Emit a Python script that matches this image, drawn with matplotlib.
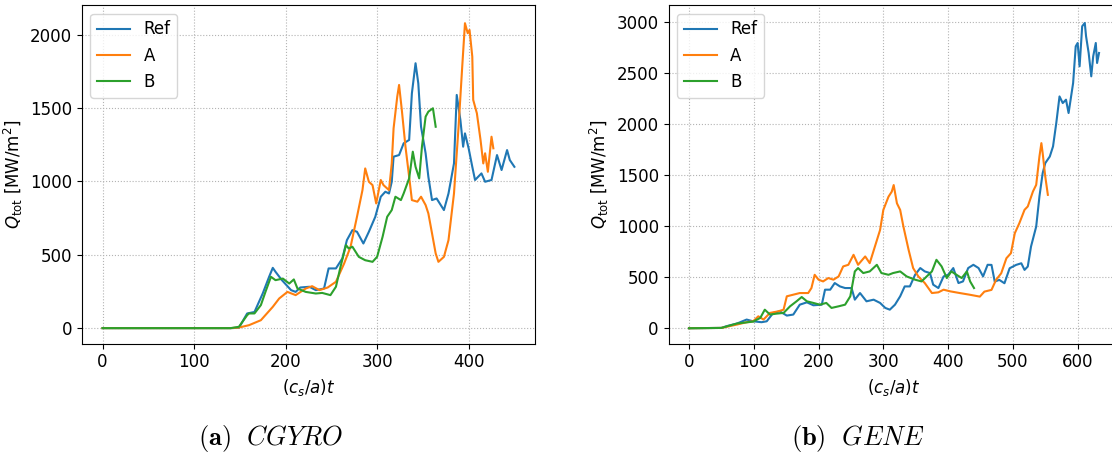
import matplotlib
matplotlib.use('Agg')
import matplotlib.pyplot as plt

###### dados - painel (a) CGYRO
t_ref_a = [0, 140, 149, 158, 166, 175, 182, 186, 189, 196, 206, 211, 216, 226, 233, 242, 247, 255, 262, 267,
           273, 278, 285, 291, 298, 304, 309, 313, 316, 318, 324, 329, 335, 338, 342, 345, 348, 353, 356, 360,
           365, 373, 378, 384, 387, 391, 394, 396, 400, 404, 407, 414, 418, 425, 431, 436, 442, 445, 450]
q_ref_a = [0, 0, 2, 100, 110, 236, 350, 411, 384, 327, 259, 247, 277, 282, 259, 270, 407, 407, 475, 600,
           668, 657, 577, 657, 759, 896, 930, 918, 998, 1169, 1180, 1260, 1283, 1601, 1806, 1669, 1373, 1192, 1032, 873,
           884, 805, 918, 1123, 1590, 1419, 1237, 1328, 1226, 1100, 1010, 1055, 998, 1010, 1180, 1078, 1214, 1146, 1100]

t_a_a = [0, 140, 149, 160, 173, 186, 193, 202, 211, 222, 229, 237, 246, 255, 264, 271, 278, 284, 287, 291,
         295, 299, 304, 307, 313, 316, 318, 322, 324, 327, 331, 335, 338, 344, 348, 353, 356, 360, 364, 367,
         373, 378, 384, 389, 393, 396, 399, 401, 404, 405, 409, 413, 416, 418, 421, 425, 427]
q_a_a = [0, 0, 4, 20, 54, 145, 202, 247, 225, 270, 286, 259, 277, 316, 441, 555, 759, 941, 1089, 998,
         975, 850, 1010, 975, 941, 1123, 1362, 1578, 1658, 1487, 1237, 1032, 873, 862, 896, 839, 782, 646, 509, 452,
         486, 600, 918, 1373, 1783, 2079, 2011, 2033, 1851, 1556, 1465, 1283, 1123, 1192, 1066, 1305, 1226]

t_b_a = [0, 140, 149, 158, 160, 166, 173, 178, 184, 189, 197, 204, 209, 213, 222, 233, 240, 249, 255, 260,
         266, 269, 273, 280, 287, 295, 300, 306, 311, 316, 320, 326, 329, 335, 339, 342, 346, 349, 353, 356,
         361, 364]
q_b_a = [0, 0, 9, 88, 100, 100, 157, 247, 350, 327, 338, 304, 332, 270, 247, 236, 240, 225, 282, 418,
         566, 543, 555, 486, 463, 452, 486, 623, 759, 805, 896, 873, 918, 1021, 1203, 1100, 1021, 1237, 1442, 1476,
         1499, 1373]

###### dados - painel (b) GENE
t_ref_b = [0, 50, 58, 74, 89, 99, 112, 120, 130, 140, 151, 161, 171, 182, 192, 205, 210, 218, 225, 233,
           241, 251, 256, 264, 274, 285, 295, 303, 310, 318, 326, 333, 341, 349, 357, 364, 372, 377, 385, 393,
           400, 408, 416, 423, 431, 439, 447, 454, 461, 467, 472, 479, 487, 495, 505, 513, 518, 523, 528, 536,
           541, 546, 550, 557, 562, 567, 572, 577, 582, 586, 593, 597, 600, 603, 607, 611, 613, 617, 621, 624,
           628, 630, 633]
q_ref_b = [0, 3, 20, 46, 85, 68, 59, 68, 150, 166, 124, 134, 231, 254, 225, 231, 378, 378, 443, 410,
           394, 394, 280, 345, 264, 280, 248, 199, 182, 231, 313, 410, 410, 524, 590, 557, 541, 427, 394, 508,
           524, 590, 443, 459, 590, 622, 590, 508, 622, 621, 457, 474, 441, 588, 621, 637, 572, 605, 801, 997,
           1292, 1521, 1619, 1684, 1783, 2012, 2273, 2208, 2241, 2110, 2404, 2764, 2797, 2568, 2961, 2993, 2862, 2699, 2470, 2666,
           2797, 2601, 2699]

t_a_b = [0, 50, 74, 89, 99, 107, 115, 125, 138, 146, 151, 161, 171, 184, 189, 194, 200, 207, 215, 223,
         231, 238, 246, 254, 261, 272, 279, 287, 295, 300, 308, 313, 316, 321, 326, 331, 339, 346, 354, 364,
         375, 385, 393, 403, 418, 433, 449, 456, 467, 474, 482, 490, 497, 503, 510, 518, 523, 531, 536, 541,
         544, 546, 550, 554]
q_a_b = [0, 3, 36, 59, 68, 117, 85, 150, 166, 182, 313, 329, 345, 345, 394, 524, 476, 459, 492, 476,
         508, 606, 622, 720, 622, 704, 638, 801, 964, 1160, 1290, 1339, 1404, 1225, 1160, 997, 769, 590, 508, 443,
         345, 352, 378, 362, 345, 329, 310, 359, 376, 474, 539, 686, 736, 932, 1030, 1161, 1194, 1341, 1406, 1684,
         1815, 1717, 1488, 1308]

t_b_b = [0, 50, 74, 99, 110, 117, 125, 135, 146, 156, 166, 174, 182, 192, 202, 212, 220, 231, 241, 249,
         256, 261, 269, 279, 290, 297, 308, 315, 326, 336, 349, 359, 367, 375, 382, 390, 398, 405, 413, 421,
         429, 434, 440]
q_b_b = [0, 3, 46, 65, 101, 182, 134, 143, 150, 215, 264, 306, 264, 248, 231, 248, 199, 215, 231, 313,
         557, 590, 541, 557, 622, 541, 524, 541, 557, 508, 476, 459, 508, 557, 671, 606, 492, 557, 524, 492,
         557, 459, 394]

nomes = ['Ref', 'A', 'B']
legendas = [r'$\mathbf{(a)}\ \ \mathit{CGYRO}$', r'$\mathbf{(b)}\ \ \mathit{GENE}$']

plt.rcParams['font.size'] = 12

fig = plt.figure(figsize=(11.12, 4.55), dpi=100)
ax1 = fig.add_axes([0.0737, 0.245, 0.4074, 0.743])
ax2 = fig.add_axes([0.6012, 0.245, 0.4056, 0.743])

paineis = [
    (ax1, [(t_ref_a, q_ref_a), (t_a_a, q_a_a), (t_b_a, q_b_a)], (-22.5, 472.5), (-105, 2200), range(0, 401, 100), range(0, 2001, 500)),
    (ax2, [(t_ref_b, q_ref_b), (t_a_b, q_a_b), (t_b_b, q_b_b)], (-31.6, 664.7), (-150, 3165), range(0, 601, 100), range(0, 3001, 500)),
]

for ax, series, xl, yl, xt, yt in paineis:
    for (t, q), nome in zip(series, nomes):
        ax.plot(t, q, lw=1.5, label=nome)
    ax.set_xlim(*xl)
    ax.set_ylim(*yl)
    ax.set_xticks(list(xt))
    ax.set_yticks(list(yt))
    ax.grid(True, linestyle=':', color='0.7', linewidth=0.8)
    ax.set_xlabel(r'$(c_s/a)t$')
    ax.set_ylabel(r'$Q_{\rm tot}$ [MW/m$^2$]')
    ax.legend(loc='upper left')

###### legendas de baixo (a) e (b)
fig.text(271 / 1112, 1 - 438 / 455, legendas[0], ha='center', va='center', fontsize=19, math_fontfamily='cm')
fig.text(858 / 1112, 1 - 438 / 455, legendas[1], ha='center', va='center', fontsize=19, math_fontfamily='cm')

fig.savefig('out.png', dpi=100)
